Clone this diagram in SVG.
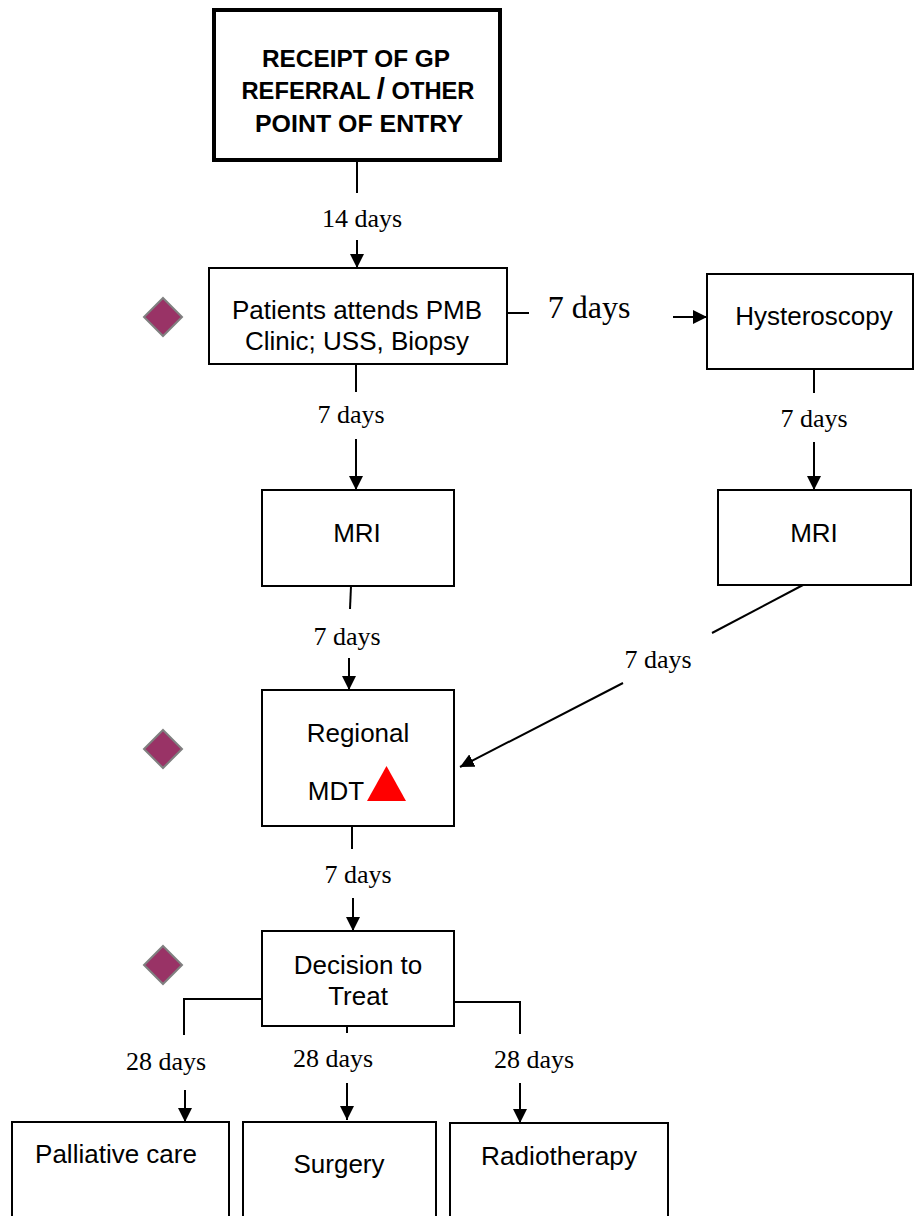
<svg xmlns="http://www.w3.org/2000/svg" width="914" height="1216" viewBox="0 0 914 1216">
<style>
.box{fill:#fff;stroke:#000;stroke-width:2}
.bold{font-family:"Liberation Sans",Arial,sans-serif;font-weight:bold;font-size:24px;text-anchor:middle;fill:#000}
.lbl{font-family:"Liberation Sans",Arial,sans-serif;font-size:26px;text-anchor:middle;fill:#000}
.days{font-family:"Liberation Serif","Times New Roman",serif;font-size:26px;text-anchor:middle;fill:#000}
.ln{fill:none;stroke:#000;stroke-width:2}
.arr{fill:none;stroke:#000;stroke-width:2;marker-end:url(#ah)}
.dia{fill:#993366;stroke:#808080;stroke-width:2}
</style>
<defs>
<marker id="ah" markerUnits="userSpaceOnUse" viewBox="0 0 14 14" refX="14" refY="7" markerWidth="14" markerHeight="14" orient="auto">
<path d="M0,0 L14,7 L0,14 z" fill="#000"/>
</marker>
</defs>
<rect width="914" height="1216" fill="#fff"/>

<g id="connectors">
<line class="ln" x1="357" y1="161" x2="357" y2="193"/>
<line class="arr" x1="357" y1="240" x2="357" y2="268"/>
<line class="ln" x1="507" y1="313" x2="529" y2="313"/>
<line class="arr" x1="673" y1="317" x2="707" y2="317"/>
<line class="ln" x1="356" y1="364" x2="356" y2="392"/>
<line class="arr" x1="356" y1="439" x2="356" y2="490"/>
<line class="ln" x1="814" y1="369" x2="814" y2="393"/>
<line class="arr" x1="814" y1="442" x2="814" y2="490"/>
<line class="ln" x1="351" y1="586" x2="350" y2="609"/>
<line class="arr" x1="349" y1="658" x2="349" y2="690"/>
<line class="ln" x1="803" y1="585" x2="712" y2="633"/>
<line class="arr" x1="623" y1="683" x2="460" y2="767"/>
<line class="ln" x1="352" y1="826" x2="352" y2="849"/>
<line class="arr" x1="353" y1="898" x2="353" y2="931"/>
<polyline class="ln" points="262,999 184,999 184,1035"/>
<polyline class="ln" points="454,1002 520,1002 520,1034"/>
<line class="ln" x1="347" y1="1026" x2="347" y2="1033"/>
<line class="arr" x1="185" y1="1090" x2="185" y2="1122"/>
<line class="arr" x1="347" y1="1083" x2="347" y2="1120"/>
<line class="arr" x1="520" y1="1083" x2="520" y2="1123"/>
<text class="days" x="362" y="227" font-size="24">14 days</text>
<text class="days" x="589" y="318" style="font-size:32px">7 days</text>
<text class="days" x="351" y="423">7 days</text>
<text class="days" x="814" y="427">7 days</text>
<text class="days" x="347" y="645">7 days</text>
<text class="days" x="658" y="668">7 days</text>
<text class="days" x="358" y="883">7 days</text>
<text class="days" x="166" y="1070">28 days</text>
<text class="days" x="333" y="1067">28 days</text>
<text class="days" x="534" y="1068">28 days</text>
</g>

<g id="n-receipt">
<rect x="214" y="10" width="286" height="150" fill="#fff" stroke="#000" stroke-width="4"/>
<text class="bold" x="356" y="67" textLength="188" lengthAdjust="spacingAndGlyphs">RECEIPT OF GP</text>
<text class="bold" x="358" y="99" textLength="233" lengthAdjust="spacingAndGlyphs">REFERRAL <tspan style="font-size:30px">/</tspan> OTHER</text>
<text class="bold" x="359" y="132" textLength="208" lengthAdjust="spacingAndGlyphs">POINT OF ENTRY</text>
</g>

<g id="n-pmb">
<polygon class="dia" points="163,298 182,317 163,336 144,317"/>
<rect class="box" x="209" y="268" width="298" height="96"/>
<text class="lbl" x="357" y="319">Patients attends PMB</text>
<text class="lbl" x="357" y="350">Clinic; USS, Biopsy</text>
</g>

<g id="n-hysteroscopy">
<rect class="box" x="707" y="274" width="206" height="95"/>
<text class="lbl" x="814" y="325">Hysteroscopy</text>
</g>

<g id="n-mri-left">
<rect class="box" x="262" y="490" width="192" height="96"/>
<text class="lbl" x="357" y="542">MRI</text>
</g>

<g id="n-mri-right">
<rect class="box" x="718" y="490" width="193" height="95"/>
<text class="lbl" x="814" y="542">MRI</text>
</g>

<g id="n-mdt">
<polygon class="dia" points="163,730 182,749 163,768 144,749"/>
<rect class="box" x="262" y="690" width="192" height="136"/>
<text class="lbl" x="358" y="742">Regional</text>
<text class="lbl" x="336" y="800">MDT</text>
<polygon points="367,801 406,801 386.5,766" fill="#ff0000"/>
</g>

<g id="n-decision">
<polygon class="dia" points="163,946 182,965 163,984 144,965"/>
<rect class="box" x="262" y="931" width="192" height="95"/>
<text class="lbl" x="358" y="974">Decision to</text>
<text class="lbl" x="358" y="1005">Treat</text>
</g>

<g id="n-palliative">
<rect class="box" x="12" y="1122" width="217" height="110"/>
<text class="lbl" x="116" y="1163">Palliative care</text>
</g>

<g id="n-surgery">
<rect class="box" x="243" y="1122" width="193" height="110"/>
<text class="lbl" x="339" y="1173">Surgery</text>
</g>

<g id="n-radiotherapy">
<rect class="box" x="450" y="1123" width="218" height="110"/>
<text class="lbl" x="559" y="1165" textLength="156" lengthAdjust="spacingAndGlyphs">Radiotherapy</text>
</g>
</svg>
